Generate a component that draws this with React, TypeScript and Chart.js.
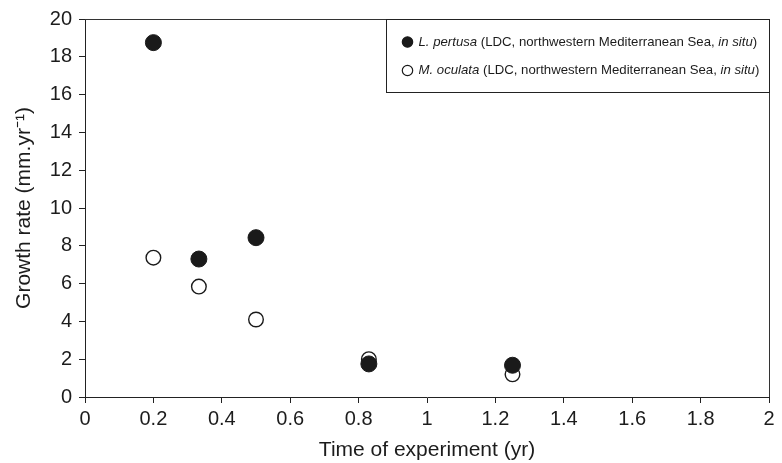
import React, { useEffect, useRef } from "react";
import { Chart, registerables } from "chart.js";

Chart.register(...registerables);

// ---- data ----
const timeYr = [0.2, 0.333, 0.5, 0.83, 1.25];
const lPertusaRate = [18.75, 7.3, 8.43, 1.75, 1.68];
const mOculataRate = [7.37, 5.84, 4.1, 2.0, 1.2];
const xTickValues = [0, 0.2, 0.4, 0.6, 0.8, 1, 1.2, 1.4, 1.6, 1.8, 2];
const yTickValues = [0, 2, 4, 6, 8, 10, 12, 14, 16, 18, 20];
const seriesNames = ["L. pertusa", "M. oculata"];
// legend label pieces: [text, italic]
const legendPertusa: [string, boolean][] = [
  ["L. pertusa", true],
  [" (LDC, northwestern Mediterranean Sea, ", false],
  ["in situ", true],
  [")", false],
];
const legendOculata: [string, boolean][] = [
  ["M. oculata", true],
  [" (LDC, northwestern Mediterranean Sea, ", false],
  ["in situ", true],
  [")", false],
];
const xTitle = "Time of experiment (yr)";
const yTitle = "Growth rate (mm.yr\u207B\u00B9)";

const FONT = "'Liberation Sans', Arial, Helvetica, sans-serif";
const INK = "#1c1c1c";

const frameAndLegend = {
  id: "frameAndLegend",
  afterDraw(chart: any) {
    const { ctx, chartArea } = chart;
    ctx.save();
    // top & right frame lines
    ctx.strokeStyle = "#333";
    ctx.lineWidth = 1;
    ctx.beginPath();
    ctx.moveTo(chartArea.left, Math.round(chartArea.top) + 0.5);
    ctx.lineTo(chartArea.right + 0.5, Math.round(chartArea.top) + 0.5);
    ctx.lineTo(chartArea.right + 0.5, chartArea.bottom);
    ctx.stroke();

    // legend box
    const boxW = 383;
    const boxH = 73;
    const bx = Math.round(chartArea.right - boxW) + 0.5;
    const by = Math.round(chartArea.top) + 0.5;
    ctx.fillStyle = "#fff";
    ctx.fillRect(bx, by, boxW, boxH);
    ctx.strokeStyle = "#222";
    ctx.strokeRect(bx, by, boxW, boxH);

    const rows = [legendPertusa, legendOculata];
    const rowY = [by + 22.5, by + 51];
    rows.forEach((parts, i) => {
      const ds = chart.data.datasets[i];
      const cy = rowY[i];
      const cx = bx + 21;
      ctx.beginPath();
      ctx.arc(cx, cy, 5.2, 0, Math.PI * 2);
      ctx.fillStyle = ds.backgroundColor;
      ctx.fill();
      ctx.lineWidth = 1.2;
      ctx.strokeStyle = ds.borderColor;
      ctx.stroke();
      let tx = bx + 32;
      ctx.textBaseline = "middle";
      ctx.textAlign = "left";
      ctx.fillStyle = INK;
      parts.forEach(([t, it]) => {
        ctx.font = `${it ? "italic " : ""}13.2px ${FONT}`;
        ctx.fillText(t, tx, cy);
        tx += ctx.measureText(t).width;
      });
    });
    ctx.restore();
  },
};

export default function App() {
  const ref = useRef<HTMLCanvasElement>(null);
  useEffect(() => {
    if (!ref.current) return;
    const chart = new Chart(ref.current, {
      type: "scatter",
      data: {
        datasets: [
          {
            label: seriesNames[0],
            data: timeYr.map((x, i) => ({ x, y: lPertusaRate[i] })),
            backgroundColor: "#1a1a1a",
            borderColor: "#1a1a1a",
            borderWidth: 1,
            pointRadius: 8,
          },
          {
            label: seriesNames[1],
            data: timeYr.map((x, i) => ({ x, y: mOculataRate[i] })),
            backgroundColor: "#ffffff",
            borderColor: "#1a1a1a",
            borderWidth: 1.4,
            pointRadius: 7.3,
          },
        ],
      },
      options: {
        animation: false,
        responsive: false,
        layout: { padding: { top: 19, right: 13, left: 0, bottom: 0 } },
        plugins: {
          legend: { display: false },
          tooltip: { enabled: false },
        },
        scales: {
          x: {
            type: "linear",
            min: 0,
            max: 2,
            afterFit: (s: any) => {
              s.height = 66;
            },
            afterBuildTicks: (s: any) => {
              s.ticks = xTickValues.map((v) => ({ value: v }));
            },
            ticks: {
              color: INK,
              font: { family: FONT, size: 20 },
              padding: 4,
              maxRotation: 0,
              callback: (v: any) => String(Number(Number(v).toFixed(1))),
            },
            grid: {
              drawOnChartArea: false,
              drawTicks: true,
              tickLength: 6,
              color: "#222",
            },
            border: { display: true, color: "#222", width: 1 },
            title: {
              display: true,
              text: xTitle,
              color: INK,
              font: { family: FONT, size: 21 },
              padding: { top: 0, bottom: 0 },
            },
          },
          y: {
            type: "linear",
            min: 0,
            max: 20,
            afterFit: (s: any) => {
              s.width = 85;
            },
            afterBuildTicks: (s: any) => {
              s.ticks = yTickValues.map((v) => ({ value: v }));
            },
            ticks: {
              color: INK,
              font: { family: FONT, size: 20 },
              padding: 7,
            },
            grid: {
              drawOnChartArea: false,
              drawTicks: true,
              tickLength: 6,
              color: "#222",
            },
            border: { display: true, color: "#222", width: 1 },
            title: {
              display: true,
              text: yTitle,
              color: INK,
              font: { family: FONT, size: 21 },
              padding: { top: 12, bottom: 0 },
            },
          },
        },
      },
      plugins: [frameAndLegend],
    });
    return () => chart.destroy();
  }, []);

  return (
    <div style={{ position: "fixed", left: 0, top: 0, width: 782, height: 463, background: "#fff" }}>
      <canvas ref={ref} width={782} height={463} style={{ display: "block" }} />
    </div>
  );
}
